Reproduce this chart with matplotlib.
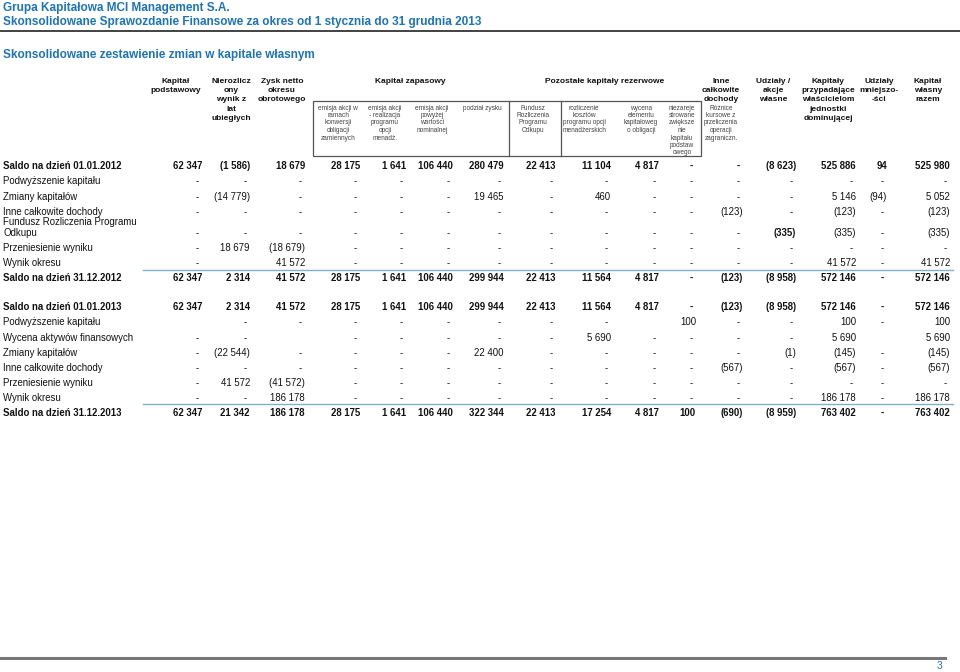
import matplotlib
matplotlib.use("Agg")
import matplotlib.pyplot as plt
from matplotlib.patches import Rectangle

# ── Data ──────────────────────────────────────────────────────────────────────
TITLE_1 = "Grupa Kapitałowa MCI Management S.A."
TITLE_2 = "Skonsolidowane Sprawozdanie Finansowe za okres od 1 stycznia do 31 grudnia 2013"
SECTION = "Skonsolidowane zestawienie zmian w kapitale własnym"

D = "-"
row_labels = [
    "Saldo na dzień 01.01.2012",
    "Podwyższenie kapitału",
    "Zmiany kapitałów",
    "Inne całkowite dochody",
    "Fundusz Rozliczenia Programu\nOdkupu",
    "Przeniesienie wyniku",
    "Wynik okresu",
    "Saldo na dzień 31.12.2012",
    "Saldo na dzień 01.01.2013",
    "Podwyższenie kapitału",
    "Wycena aktywów finansowych",
    "Zmiany kapitałów",
    "Inne całkowite dochody",
    "Przeniesienie wyniku",
    "Wynik okresu",
    "Saldo na dzień 31.12.2013",
]
row_bold = [True, False, False, False, False, False, False, True,
            True, False, False, False, False, False, False, True]

saldo_2012_open  = ["62 347", "(1 586)", "18 679", "28 175", "1 641", "106 440", "280 479", "22 413",
                    "11 104", "4 817", D, D, "(8 623)", "525 886", "94", "525 980"]
podwyzszenie_12  = [D] * 16
zmiany_12        = [D, "(14 779)", D, D, D, D, "19 465", D, "460", D, D, D, D, "5 146", "(94)", "5 052"]
inne_12          = [D, D, D, D, D, D, D, D, D, D, D, "(123)", D, "(123)", D, "(123)"]
fundusz_12       = [D, D, D, D, D, D, D, D, D, D, D, D, "(335)", "(335)", D, "(335)"]
przeniesienie_12 = [D, "18 679", "(18 679)", D, D, D, D, D, D, D, D, D, D, D, D, D]
wynik_12         = [D, None, "41 572", D, D, D, D, D, D, D, D, D, D, "41 572", D, "41 572"]
saldo_2012_close = ["62 347", "2 314", "41 572", "28 175", "1 641", "106 440", "299 944", "22 413",
                    "11 564", "4 817", D, "(123)", "(8 958)", "572 146", D, "572 146"]
saldo_2013_open  = list(saldo_2012_close)
podwyzszenie_13  = [None, D, D, D, D, D, D, D, D, None, "100", D, D, "100", D, "100"]
wycena_13        = [D, D, None, D, D, D, D, D, "5 690", D, D, D, D, "5 690", None, "5 690"]
zmiany_13        = [D, "(22 544)", D, D, D, D, "22 400", D, D, D, D, D, "(1)", "(145)", D, "(145)"]
inne_13          = [D, D, D, D, D, D, D, D, D, D, D, "(567)", D, "(567)", D, "(567)"]
przeniesienie_13 = [D, "41 572", "(41 572)", D, D, D, D, D, D, D, D, D, D, D, D, D]
wynik_13         = [D, D, "186 178", D, D, D, D, D, D, D, D, D, D, "186 178", D, "186 178"]
saldo_2013_close = ["62 347", "21 342", "186 178", "28 175", "1 641", "106 440", "322 344", "22 413",
                    "17 254", "4 817", "100", "(690)", "(8 959)", "763 402", D, "763 402"]

table_rows = [saldo_2012_open, podwyzszenie_12, zmiany_12, inne_12, fundusz_12,
              przeniesienie_12, wynik_12, saldo_2012_close,
              saldo_2013_open, podwyzszenie_13, wycena_13, zmiany_13, inne_13,
              przeniesienie_13, wynik_13, saldo_2013_close]

main_headers = [
    "Kapitał\npodstawowy",
    "Nierozlicz\nony\nwynik z\nlat\nubiegłych",
    "Zysk netto\nokresu\nobrotowego",
    "Inne\ncałkowite\ndochody",
    "Udziały /\nakcje\nwłasne",
    "Kapitały\nprzypadające\nwłaścicielom\njednostki\ndominującej",
    "Udziały\nmniejszo-\n-ści",
    "Kapitał\nwłasny\nrazem",
]
sub_headers = [
    "emisja akcji w\nramach\nkonwersji\nobligacji\nzamiennych",
    "emisja akcji\n- realizacja\nprogramu\nopcji\nmenadż.",
    "emisja akcji\npowyżej\nwartości\nnominalnej",
    "podział zysku",
    "Fundusz\nRozliczenia\nProgramu\nOdkupu",
    "rozliczenie\nkosztów\nprogramu opcji\nmenadżerskich",
    "wycena\nelementu\nkapitałoweg\no obligacji",
    "niezareje\nstrowane\nzwiększe\nnie\nkapitału\npodstaw\nowego",
    "Różnice\nkursowe z\nprzeliczenia\noperacji\nzagraniczn.",
]

# ── Layout (figure pixels) ────────────────────────────────────────────────────
COL_RIGHT = [202, 250, 305, 360, 406, 453, 504, 556, 611, 659, 696, 743, 796, 856, 887, 950]
ROW_Y     = [166, 181, 197, 212, 233, 248, 263, 278, 307, 322, 338, 353, 368, 383, 398, 413]
MAIN_X    = [176, 231, 282, 721, 773, 828, 879, 928]
SUB_X     = [338, 385, 432, 482, 533, 584, 641, 682, 721]

BLUE  = "#1d74b8"
BLACK = "#111111"
GREY  = "#444444"
FS    = 6.9
BASE  = 3.2   # baseline offset from row centre

plt.rcParams["font.family"] = ["Liberation Sans", "DejaVu Sans"]

fig = plt.figure(figsize=(9.6, 6.72), dpi=100, facecolor="white")
ax = fig.add_axes([0, 0, 1, 1])
ax.set_xlim(0, 960)
ax.set_ylim(672, 0)
ax.axis("off")


def stacked(x, y0, text, step, **kw):
    # one text per line so the spacing stays even
    for k, line in enumerate(text.split("\n")):
        ax.text(x, y0 + k * step, line, ha="center", va="baseline", **kw)


# ── Titles ────────────────────────────────────────────────────────────────────
ax.text(3, 11.5, TITLE_1, color=BLUE, fontsize=8.5, fontweight="bold", va="baseline")
ax.text(3, 25.5, TITLE_2, color=BLUE, fontsize=8.5, fontweight="bold", va="baseline")
ax.plot([0, 960], [31, 31], color="#222222", lw=1.2)
ax.text(3, 58, SECTION, color=BLUE, fontsize=8.5, fontweight="bold", va="baseline")

# ── Column headers ────────────────────────────────────────────────────────────
for x, h in zip(MAIN_X, main_headers):
    stacked(x, 83, h, 9.2, fontsize=6.0, fontweight="bold", color=BLACK)
ax.text(410, 83, "Kapitał zapasowy", ha="center", va="baseline", fontsize=6.0,
        fontweight="bold", color=BLACK)
ax.text(605, 83, "Pozostałe kapitały rezerwowe", ha="center", va="baseline", fontsize=6.0,
        fontweight="bold", color=BLACK)

for x, h in zip(SUB_X, sub_headers):
    stacked(x, 109.5, h, 7.5, fontsize=4.7, color=GREY)

ax.add_patch(Rectangle((313, 101), 388, 55, fill=False, edgecolor="#555555", lw=0.9))
for vx in (509, 561):
    ax.plot([vx, vx], [101, 156], color="#555555", lw=0.9)

# ── Body ──────────────────────────────────────────────────────────────────────
for label, bold, y, vals in zip(row_labels, row_bold, ROW_Y, table_rows):
    weight = "bold" if bold else "normal"
    yb = y + BASE
    if "\n" in label:
        first, second = label.split("\n")
        ax.text(3, yb - 11, first, fontsize=FS, fontweight=weight, va="baseline", color=BLACK)
        ax.text(3, yb, second, fontsize=FS, fontweight=weight, va="baseline", color=BLACK)
    else:
        ax.text(3, yb, label, fontsize=FS, fontweight=weight, va="baseline", color=BLACK)
    for i, (xr, v) in enumerate(zip(COL_RIGHT, vals)):
        if v is None:
            continue
        w = weight
        if label.startswith("Fundusz") and i == 12:
            w = "bold"
        xx = xr - 3 if v == D else xr
        ax.text(xx, yb, v, fontsize=FS, fontweight=w, ha="right", va="baseline", color=BLACK)

# light blue rules above closing balances
for y in (269.5, 403.5):
    ax.plot([143, 953], [y, y], color="#7fb0c8", lw=1.0)

# ── Footer ────────────────────────────────────────────────────────────────────
ax.plot([0, 945], [658, 658], color="#777777", lw=2.2)
ax.text(940, 666, "3", color=BLUE, fontsize=7.5, ha="center", va="center")

fig.savefig("out.png", dpi=100, facecolor="white")
